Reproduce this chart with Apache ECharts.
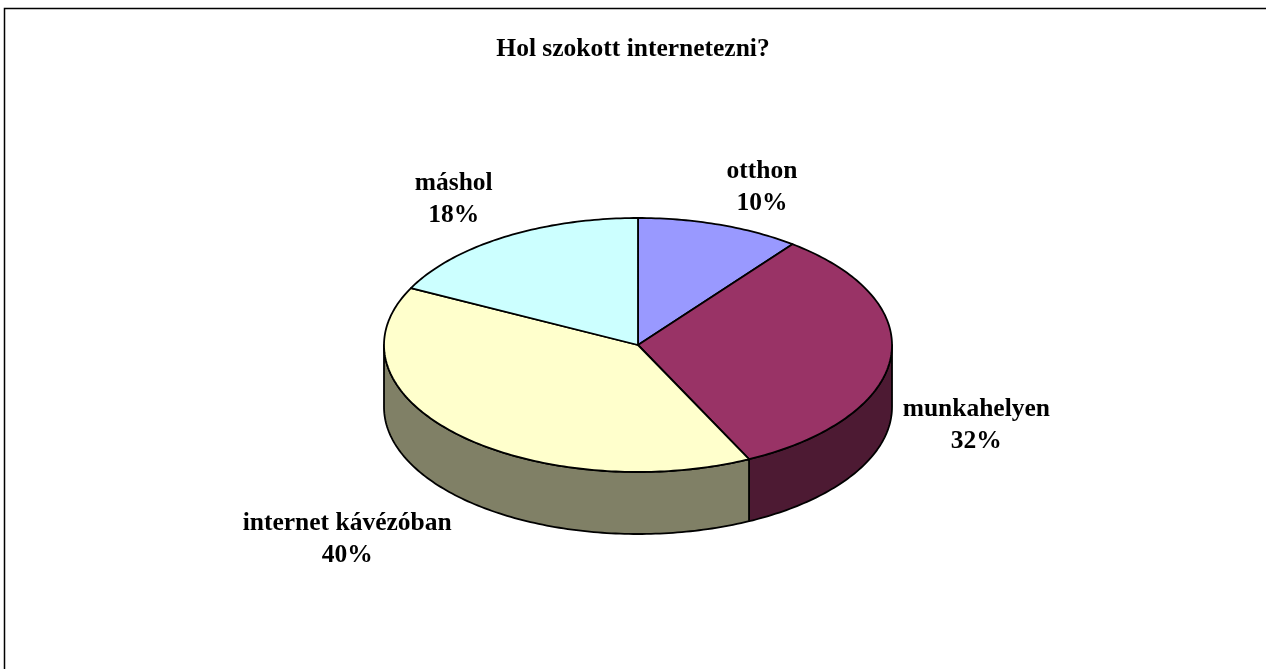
<!DOCTYPE html>
<html>
<head>
<meta charset="utf-8">
<title>Hol szokott internetezni?</title>
<script src="https://cdn.jsdelivr.net/npm/echarts@6/dist/echarts.min.js"></script>
<style>
    html, body { margin: 0; padding: 0; background: #ffffff; }
    #visualisation { width: 1266px; height: 669px; }
</style>
</head>
<body>
<div id="visualisation"></div>
<script>
// Adatok
const categories = ['otthon', 'munkahelyen', 'internet kávézóban', 'máshol'];
const values = [10.4, 32.4, 39.6, 17.6];

// Stílus
const topColors = ['#9999FF', '#993366', '#FFFFCC', '#CCFFFF'];
const sideColors = ['#4C4C80', '#4D1A33', '#808066', '#668080'];
const labelNudge = [[18, 8], [10, 1], [-56, 9], [-11, 3]];

function drawVisualisation() {

    let visualisation = echarts.init(document.getElementById('visualisation'));
    window.onresize = () => visualisation.resize();

    // Geometry of the tilted pie (ellipse + wall height).
    const cx = 638, cy = 345, rx = 254, ry = 127, depth = 62;
    const labelRx = 330, labelRy = 175;
    const font = '"Liberation Serif", "Times New Roman", serif';

    let total = values.reduce((a, b) => a + b, 0);
    let starts = [];
    let acc = 0;
    values.forEach(v => { starts.push(acc / total * 360); acc += v; });

    const rad = d => d * Math.PI / 180;
    const rim = (deg, dy) => [cx + rx * Math.sin(rad(deg)), cy - ry * Math.cos(rad(deg)) + dy];

    function arc(a, b, dy) {
        let pts = [];
        let n = Math.max(2, Math.ceil(b - a));
        for (let i = 0; i <= n; i++) {
            pts.push(rim(a + (b - a) * i / n, dy));
        }
        return pts;
    }

    function renderSlice(params, api) {
        let i = params.dataIndex;
        let share = api.value(0) / total;
        let a = starts[i];
        let b = a + share * 360;
        let children = [];

        // Only the front half of the wall (90..270 deg) is visible.
        let sa = Math.max(a, 90), sb = Math.min(b, 270);
        if (sb > sa) {
            children.push({
                type: 'polygon',
                z2: 1,
                shape: { points: arc(sa, sb, 0).concat(arc(sa, sb, depth).reverse()) },
                style: { fill: sideColors[i], stroke: '#000', lineWidth: 1.8, lineJoin: 'round' }
            });
        }

        children.push({
            type: 'polygon',
            z2: 10,
            shape: { points: [[cx, cy]].concat(arc(a, b, 0)) },
            style: { fill: topColors[i], stroke: '#000', lineWidth: 1.8, lineJoin: 'round' }
        });

        let m = (a + b) / 2;
        let front = Math.cos(rad(m)) < 0 ? depth : 0;
        children.push({
            type: 'text',
            z2: 20,
            style: {
                text: categories[i] + '\n' + Math.round(share * 100) + '%',
                x: cx + labelRx * Math.sin(rad(m)) + labelNudge[i][0],
                y: cy - labelRy * Math.cos(rad(m)) + front + labelNudge[i][1],
                align: 'center',
                verticalAlign: 'middle',
                fontFamily: font,
                fontWeight: 'bold',
                fontSize: 25.5,
                lineHeight: 32,
                fill: '#000'
            }
        });

        return { type: 'group', children: children };
    }

    let option = {
        animation: false,
        title: {
            text: 'Hol szokott internetezni?',
            left: 'center',
            top: 31,
            textStyle: { fontFamily: font, fontWeight: 'bold', fontSize: 25.5, color: '#000' }
        },
        graphic: [{
            type: 'rect',
            silent: true,
            shape: { x: 4.5, y: 8.5, width: 1300, height: 700 },
            style: { fill: 'none', stroke: '#000', lineWidth: 1.5 }
        }],
        series: [{
            type: 'custom',
            coordinateSystem: 'none',
            renderItem: renderSlice,
            data: values.map((v, i) => ({ name: categories[i], value: [v] }))
        }]
    };

    visualisation.setOption(option);
}

window.addEventListener('load', drawVisualisation);
</script>
</body>
</html>
